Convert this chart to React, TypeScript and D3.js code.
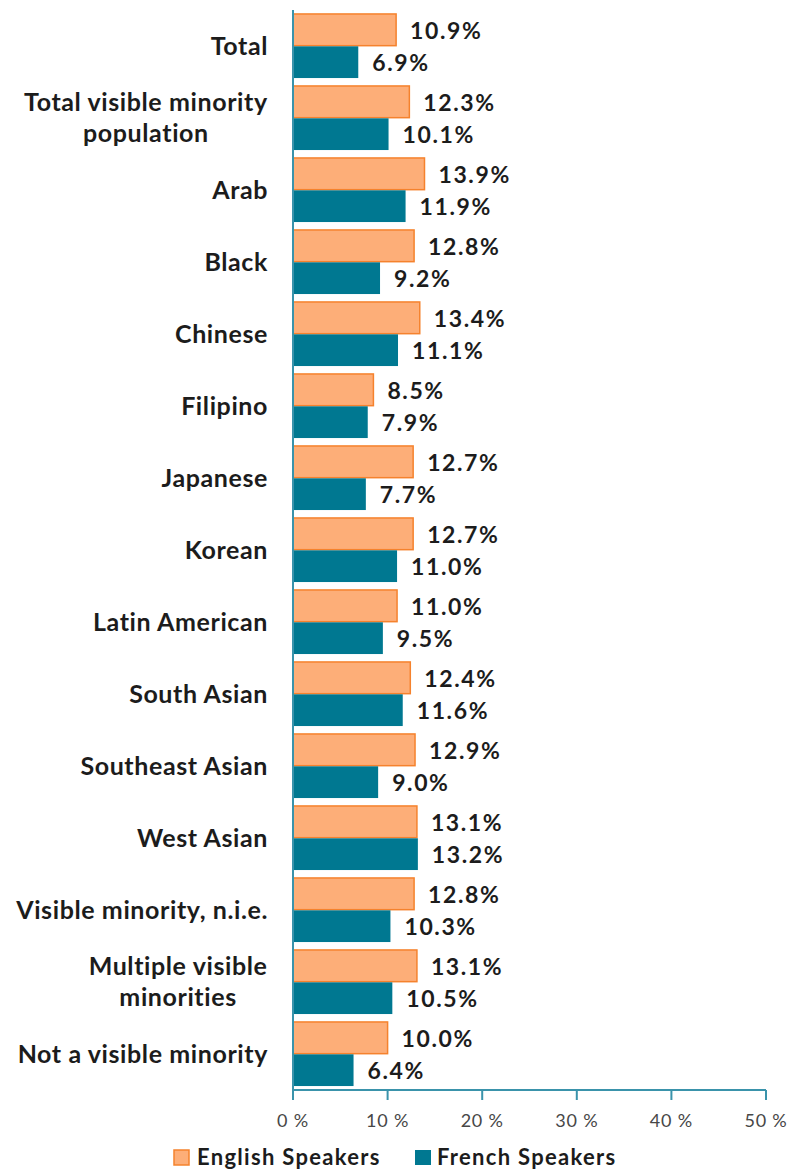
import React from 'react';
import * as d3 from 'd3';

const categories = [
  ['Total'],
  ['Total visible minority', 'population'],
  ['Arab'],
  ['Black'],
  ['Chinese'],
  ['Filipino'],
  ['Japanese'],
  ['Korean'],
  ['Latin American'],
  ['South Asian'],
  ['Southeast Asian'],
  ['West Asian'],
  ['Visible minority, n.i.e.'],
  ['Multiple visible', 'minorities'],
  ['Not a visible minority'],
];
const englishSpeakers = [10.9, 12.3, 13.9, 12.8, 13.4, 8.5, 12.7, 12.7, 11.0, 12.4, 12.9, 13.1, 12.8, 13.1, 10.0];
const frenchSpeakers = [6.9, 10.1, 11.9, 9.2, 11.1, 7.9, 7.7, 11.0, 9.5, 11.6, 9.0, 13.2, 10.3, 10.5, 6.4];
const xTicks = [0, 10, 20, 30, 40, 50];
const seriesNames = ['English Speakers', 'French Speakers'];

const W = 794;
const H = 1172;
const FONT = 'Lato, "Open Sans", sans-serif';
const AXIS = '#3a93ab';
const ORANGE = '#fdae78';
const ORANGE_STROKE = '#f5822d';
const BLUE = '#007891';
const TEXT = '#1c1c1c';

const LABEL_SIZE = 25;
const LABEL_SPACING = 0.6;
const LABEL_RIGHT = 268;

// measure label width so multi-line labels are centered inside a right-aligned block
let ctx: CanvasRenderingContext2D | null = null;
function textWidth(s: string) {
  if (!ctx) ctx = document.createElement('canvas').getContext('2d');
  if (!ctx) return s.length * LABEL_SIZE * 0.5;
  ctx.font = `bold ${LABEL_SIZE}px ${FONT}`;
  return ctx.measureText(s).width + LABEL_SPACING * s.length;
}

export default function App() {
  const keys = categories.map((c) => c.join(' '));
  const x = d3.scaleLinear().domain([0, 50]).range([293, 766]);
  const y = d3.scaleBand().domain(keys).range([10, 1090]).paddingInner(0.11).paddingOuter(0.055);
  const sub = d3.scaleBand().domain(['en', 'fr']).range([0, y.bandwidth()]).paddingInner(0.02);

  return (
    <svg width={W} height={H} style={{ position: 'absolute', left: 0, top: 0, background: '#fff' }} fontFamily={FONT}>
      {categories.map((lines, i) => {
        const key = keys[i];
        const y0 = y(key)!;
        const cy = y0 + y.bandwidth() / 2;
        const en = englishSpeakers[i];
        const fr = frenchSpeakers[i];
        const multi = lines.length > 1;
        const blockW = multi ? Math.max(...lines.map(textWidth)) : 0;
        return (
          <g key={key}>
            <rect x={x(0)} y={y0 + sub('en')!} width={x(en) - x(0)} height={sub.bandwidth()}
              fill={ORANGE} stroke={ORANGE_STROKE} strokeWidth={1.5} />
            <rect x={x(0)} y={y0 + sub('fr')!} width={x(fr) - x(0)} height={sub.bandwidth()} fill={BLUE} />
            <text x={x(en) + 14} y={y0 + sub('en')! + sub.bandwidth() / 2 + 1} dy="0.35em"
              fontSize={23} fontWeight="bold" letterSpacing={1.6} fill={TEXT}>{en.toFixed(1)}%</text>
            <text x={x(fr) + 14} y={y0 + sub('fr')! + sub.bandwidth() / 2 + 1} dy="0.35em"
              fontSize={23} fontWeight="bold" letterSpacing={1.6} fill={TEXT}>{fr.toFixed(1)}%</text>
            <text fontSize={LABEL_SIZE} fontWeight="bold" letterSpacing={LABEL_SPACING} fill={TEXT}>
              {lines.map((ln, j) => (
                <tspan key={j} x={multi ? LABEL_RIGHT - blockW / 2 : LABEL_RIGHT}
                  y={cy + (j - (lines.length - 1) / 2) * 31} dy="0.35em"
                  textAnchor={multi ? 'middle' : 'end'}>{ln}</tspan>
              ))}
            </text>
          </g>
        );
      })}
      <line x1={x(0)} x2={x(0)} y1={10} y2={1090} stroke={AXIS} strokeWidth={2} />
      <line x1={x(0)} x2={x(50)} y1={1090} y2={1090} stroke={AXIS} strokeWidth={2} />
      {xTicks.map((t) => (
        <g key={t}>
          <line x1={x(t)} x2={x(t)} y1={1090} y2={1100} stroke={AXIS} strokeWidth={2} />
          <text x={x(t)} y={1121} dy="0.35em" textAnchor="middle" fontSize={18} letterSpacing={0.8} fill="#474747">{t} %</text>
        </g>
      ))}
      <g fontSize={22} fontWeight="bold" letterSpacing={1.3} fill={TEXT}>
        <rect x={174} y={1150} width={15} height={15} fill={ORANGE} stroke={ORANGE_STROKE} strokeWidth={1.5} />
        <text x={197} y={1157} dy="0.35em">{seriesNames[0]}</text>
        <rect x={415} y={1150} width={16} height={15} fill={BLUE} />
        <text x={437} y={1157} dy="0.35em">{seriesNames[1]}</text>
      </g>
    </svg>
  );
}
